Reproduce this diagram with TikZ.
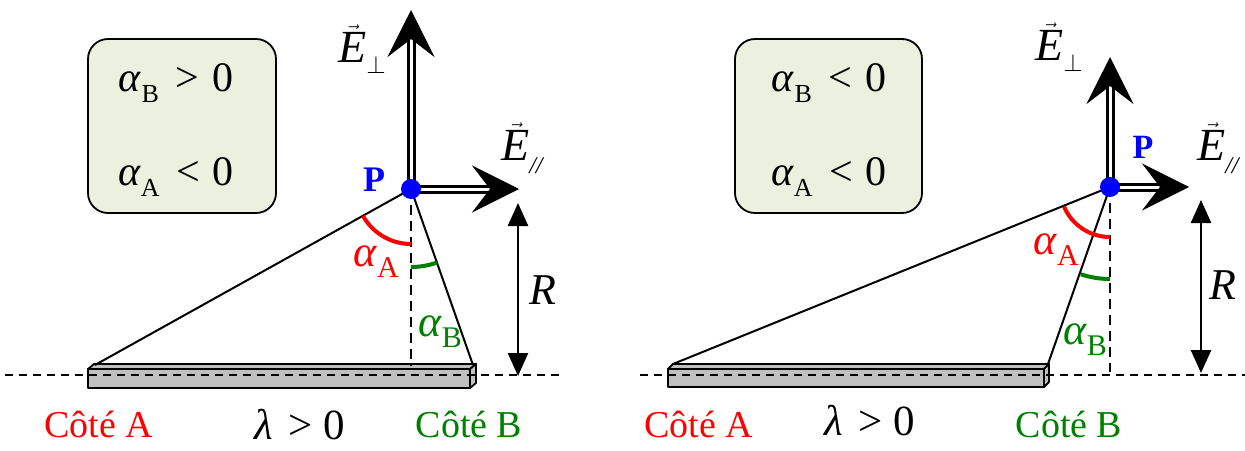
\documentclass[tikz,border=0pt]{standalone}
\usepackage{fontspec}
\setmainfont{Liberation Serif}
\newfontfamily\tnr{Liberation Serif}
\usetikzlibrary{arrows.meta}
\definecolor{boxfill}{RGB}{235,241,222}
\definecolor{bargray}{RGB}{192,192,192}
\definecolor{dgreen}{RGB}{0,128,0}
\newcommand\alsub[2]{\textit{α}\raisebox{-0.25em}{\fontsize{#2}{#2}\selectfont #1}}
\newcommand\vecE{$\vec{\hbox{\tnr\itshape E}}$}
\newcommand\perpsub{\raisebox{-0.25em}{\fontsize{26}{26}\selectfont$\perp$}}
\newcommand\parsub{\raisebox{-0.3em}{\fontsize{24}{24}\selectfont\itshape //}}
\tikzset{
  lbl/.style={font=\tnr\fontsize{38}{40}\selectfont, inner sep=0pt},
  boxtxt/.style={font=\tnr\fontsize{42}{44}\selectfont, inner sep=0pt},
  anglbl/.style={font=\tnr\fontsize{44}{46}\selectfont, inner sep=0pt},
  elbl/.style={font=\tnr\fontsize{46}{48}\selectfont, inner sep=0pt, anchor=base west},
  infobox/.style={draw=black, line width=1.8pt, rounded corners=20pt, fill=boxfill, inner sep=0pt},
  fieldarrow/.style={double=white, double distance=3pt, line width=3pt, -{Stealth[length=47pt,width=47pt,inset=18pt]}},
  dist/.style={line width=2.5pt, {Triangle[length=23pt,width=20pt]}-{Triangle[length=23pt,width=20pt]}},
  ray/.style={line width=2pt},
  axisdash/.style={line width=1.6pt, dash pattern=on 8pt off 6pt},
  vdash/.style={line width=2pt, dash pattern=on 10pt off 6pt},
  pt/.style={circle, fill=blue, inner sep=0pt, minimum size=20pt},
  barstyle/.style={draw=black, line width=1.8pt, fill=bargray, line join=round},
  angA/.style={red, line width=4pt},
  angB/.style={dgreen, line width=4pt},
}
\begin{document}
\begin{tikzpicture}[x=1pt,y=1pt]
\fill[white] (0,0) rectangle (1245,-450);
\useasboundingbox (0,0) rectangle (1245,-450);

% ================= LEFT =================
\node[infobox, minimum width=188pt, minimum height=174pt] (box1) at (182,-126) {};
\node[boxtxt] (b1a) at (176,-83) {\alsub{B}{26}\hspace{0.4em}>\hspace{0.3em}0};
\node[boxtxt] (b1b) at (176,-177) {\alsub{A}{26}\hspace{0.4em}<\hspace{0.3em}0};

% bar
\draw[barstyle] (88,-369) -- (94,-364) -- (476,-364) -- (470,-369) -- cycle;
\draw[barstyle] (470,-369) -- (476,-364) -- (476,-383) -- (470,-388) -- cycle;
\draw[barstyle] (88,-369) rectangle (470,-388);
\draw[axisdash] (5,-375) -- (560,-375);

\coordinate (P1c) at (411,-189);
\coordinate (A1) at (95,-365);
\coordinate (B1) at (473,-365);
\coordinate (F1) at (411,-366);
\coordinate (Ev1) at (411,-10);
\coordinate (Eh1) at (519,-189);
\coordinate (R1t) at (518,-203);
\coordinate (R1b) at (518,-376);

\draw[ray] (P1c) -- (A1);
\draw[ray] (P1c) -- (B1);
\draw[vdash] (P1c) -- (F1);
\draw[angA] (P1c) ++(209.3:55) arc[start angle=209.3, end angle=270, radius=55];
\draw[angB] (P1c) ++(270:78) arc[start angle=270, end angle=289.4, radius=78];
\draw[fieldarrow] (P1c) -- (Ev1);
\draw[fieldarrow] (P1c) -- (Eh1);
\node[pt] (P1) at (P1c) {};
\draw[dist] (R1t) -- (R1b);

\node[lbl, font=\tnr\fontsize{36}{38}\selectfont\bfseries, text=blue] (P1l) at (374,-180) {P};
\node[anglbl, red, anchor=center] (aA1) at (376,-262) {\alsub{A}{30}};
\node[anglbl, dgreen, anchor=center] (aB1) at (440,-332) {\alsub{B}{30}};
\node[anglbl, anchor=center] (R1l) at (543,-290) {\textit{R}};
\node[elbl] (E1v) at (338,-62) {\vecE\perpsub};
\node[elbl] (E1h) at (501,-160) {\vecE\parsub};

\node[lbl, red] (cA1) at (99,-424) {Côté A};
\node[lbl, font=\tnr\fontsize{43}{45}\selectfont] (lam1) at (300,-425) {\textit{λ}\hspace{0.35em}>\hspace{0.25em}0};
\node[lbl, dgreen] (cB1) at (469,-424) {Côté B};

% ================= RIGHT =================
\node[infobox, minimum width=187pt, minimum height=174pt] (box2) at (828.5,-126) {};
\node[boxtxt] (b2a) at (829,-83) {\alsub{B}{26}\hspace{0.4em}<\hspace{0.3em}0};
\node[boxtxt] (b2b) at (829,-177) {\alsub{A}{26}\hspace{0.4em}<\hspace{0.3em}0};

\draw[barstyle] (668,-369) -- (673,-364) -- (1049,-364) -- (1044,-369) -- cycle;
\draw[barstyle] (1044,-369) -- (1049,-364) -- (1049,-382) -- (1044,-387) -- cycle;
\draw[barstyle] (668,-369) rectangle (1044,-387);
\draw[axisdash] (640,-375) -- (1245,-375);

\coordinate (P2c) at (1110,-187);
\coordinate (A2) at (673,-364);
\coordinate (B2) at (1048,-364);
\coordinate (F2) at (1110,-372);
\coordinate (Ev2) at (1110,-57);
\coordinate (Eh2) at (1189,-187);
\coordinate (R2t) at (1201,-200);
\coordinate (R2b) at (1201,-373);

\draw[ray] (P2c) -- (A2);
\draw[ray] (P2c) -- (B2);
\draw[vdash] (P2c) -- (F2);
\draw[angA] (P2c) ++(203:50) arc[start angle=203, end angle=270, radius=50];
\draw[angB] (P2c) ++(251.5:92) arc[start angle=251.5, end angle=270, radius=92];
\draw[fieldarrow] (P2c) -- (Ev2);
\draw[fieldarrow] (P2c) -- (Eh2);
\node[pt] (P2) at (P2c) {};
\draw[dist] (R2t) -- (R2b);

\node[lbl, font=\tnr\fontsize{34}{36}\selectfont\bfseries, text=blue] (P2l) at (1143,-147) {P};
\node[anglbl, red] (aA2) at (1056,-250) {\alsub{A}{30}};
\node[anglbl, dgreen] (aB2) at (1085,-340) {\alsub{B}{30}};
\node[anglbl] (R2l) at (1223,-285) {\textit{R}};
\node[elbl] (E2v) at (1035,-60) {\vecE\perpsub};
\node[elbl] (E2h) at (1197,-160) {\vecE\parsub};

\node[lbl, red] (cA2) at (699,-424) {Côté A};
\node[lbl, font=\tnr\fontsize{43}{45}\selectfont] (lam2) at (870,-421) {\textit{λ}\hspace{0.35em}>\hspace{0.25em}0};
\node[lbl, dgreen] (cB2) at (1069,-424) {Côté B};
\end{tikzpicture}
\end{document}
